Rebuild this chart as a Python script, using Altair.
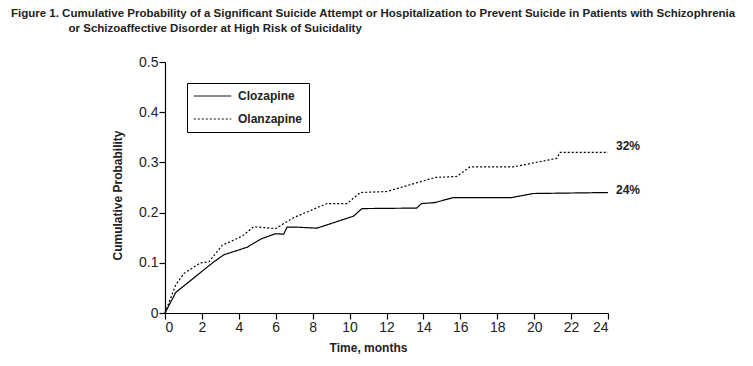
import altair as alt
import pandas as pd

# Clozapine (solid)
clz_t = [0, 0.58, 2.65, 3.19, 4.45, 5.17, 5.98, 6.43, 6.61, 7.15, 8.23, 10.22, 10.67,
         13.63, 13.9, 14.63, 15.62, 18.78, 19.95, 24.0]
clz_p = [0, 0.041, 0.102, 0.116, 0.131, 0.147, 0.158, 0.157, 0.171, 0.171, 0.169, 0.193, 0.208,
         0.209, 0.218, 0.22, 0.23, 0.23, 0.238, 0.24]
# Olanzapine (dashed)
olz_t = [0, 0.58, 1.03, 1.93, 2.38, 3.1, 4.18, 4.81, 5.98, 6.97, 8.77, 9.86, 10.58, 12.02,
         14.63, 15.8, 16.52, 18.87, 21.22, 21.4, 24.0]
olz_p = [0, 0.056, 0.079, 0.1, 0.102, 0.135, 0.153, 0.172, 0.168, 0.19, 0.218, 0.218, 0.24, 0.242,
         0.27, 0.272, 0.291, 0.291, 0.308, 0.32, 0.32]

series = ["Clozapine", "Olanzapine"]
end_labels = ["24%", "32%"]
x_ticks = list(range(0, 25, 2))
y_ticks = [0, 0.1, 0.2, 0.3, 0.4, 0.5]

rows = []
for t, p in zip(clz_t, clz_p):
    rows.append({"t": t, "p": p, "drug": "Clozapine"})
for t, p in zip(olz_t, olz_p):
    rows.append({"t": t, "p": p, "drug": "Olanzapine"})
df = pd.DataFrame(rows)

lab = pd.DataFrame({"t": [clz_t[-1], olz_t[-1]], "p": [clz_p[-1], olz_p[-1]],
                    "label": end_labels, "drug": series})

FONT = "Liberation Sans, Arial, sans-serif"

x = alt.X("t:Q", scale=alt.Scale(domain=[0, 24], nice=False),
          axis=alt.Axis(values=x_ticks, title="Time, months", titleX=203, titlePadding=8,
                        labelOverlap=False))
y = alt.Y("p:Q", scale=alt.Scale(domain=[0, 0.5], nice=False),
          axis=alt.Axis(values=y_ticks, title="Cumulative Probability",
                        labelExpr="datum.value == 0 ? '0' : format(datum.value, '.1f')",
                        labelOverlap=False,
                        titleX=-48, titleY=133, titleAngle=270,
                        titleAlign="center", titleBaseline="middle"))

lines = alt.Chart(df).mark_line(color="black", strokeWidth=1.2).encode(
    x=x, y=y,
    strokeDash=alt.StrokeDash("drug:N",
        scale=alt.Scale(domain=series, range=[[1, 0], [2, 2]]),
        legend=alt.Legend(title=None, orient="none", legendX=22, legendY=21,
                          strokeColor="black", padding=6, symbolType="stroke",
                          symbolSize=1400, symbolStrokeWidth=1, symbolStrokeColor="black",
                          clipHeight=14, rowPadding=9, labelOffset=6,
                          labelFont=FONT, labelFontSize=12, labelFontWeight="bold",
                          labelColor="#222")),
    detail="drug:N",
)

text_style = dict(align="left", baseline="middle", dx=8, font=FONT, fontSize=12,
                  fontWeight="bold", color="#222")
text_olz = alt.Chart(lab).transform_filter(alt.datum.drug == "Olanzapine").mark_text(
    dy=-6, **text_style).encode(x=x, y=y, text="label:N")
text_clz = alt.Chart(lab).transform_filter(alt.datum.drug == "Clozapine").mark_text(
    dy=-3, **text_style).encode(x=x, y=y, text="label:N")

title_lines = [
    "Figure 1. Cumulative Probability of a Significant Suicide Attempt or Hospitalization  to Prevent Suicide in Patients with Schizophrenia",
    "\u200b" + "\u00a0" * 18 + "or Schizoaffective Disorder at  High Risk of Suicidality",
]

chart = (lines + text_olz + text_clz).properties(
    width=443, height=251,
    autosize=alt.AutoSizeParams(type="none"),
    padding={"left": 157, "top": 54, "right": 137, "bottom": 45},
    title=alt.TitleParams(title_lines, anchor="start", frame="group", dx=-154, offset=21,
                          font=FONT, fontSize=11.5, fontWeight="bold", color="#222",
                          lineHeight=15),
).configure_view(stroke=None).configure_axis(
    grid=False, domainColor="black", tickColor="black", tickSize=6,
    labelFont=FONT, labelFontSize=14, labelColor="#222", labelPadding=1,
    titleFont=FONT, titleFontSize=12, titleFontWeight="bold", titleColor="#222",
    domainWidth=1.2, tickWidth=1.2,
)

chart.save("out.html", embed_options={"renderer": "svg", "actions": False})
